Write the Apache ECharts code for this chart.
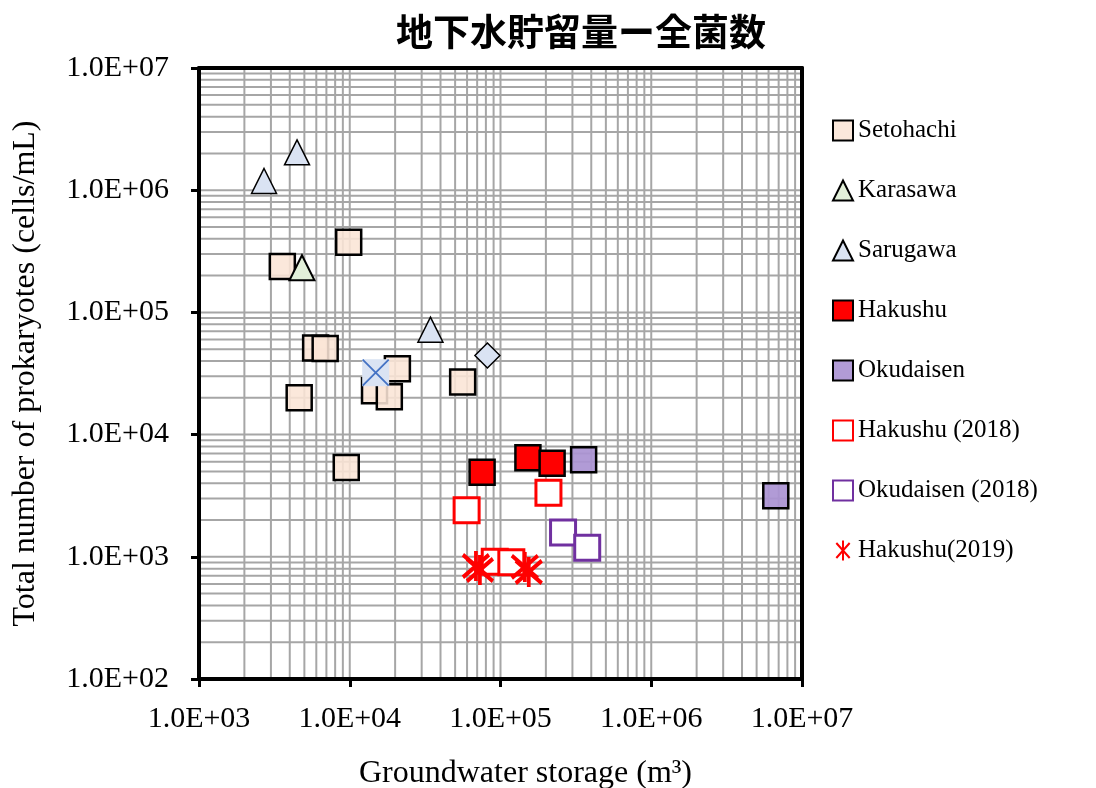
<!DOCTYPE html>
<html>
<head>
<meta charset="utf-8">
<script src="https://cdn.jsdelivr.net/npm/echarts@6/dist/echarts.min.js"></script>
<style>
  html, body { margin: 0; padding: 0; background: #fff; }
  #main { width: 1096px; height: 788px; }
</style>
</head>
<body>
<div id="main"></div>
<script>
// data (x: groundwater storage m3, y: cells/mL)
var setohachiX = [9840, 3570, 5940, 6870, 4620, 20700, 14600, 18300, 56100, 9480];
var setohachiY = [375000, 237000, 51100, 50700, 20000, 34600, 22800, 20400, 27000, 5380];
var karasawaX = [4820];
var karasawaY = [232000];
var sarugawaX = [4470, 2700, 34300];
var sarugawaY = [2040000, 1190000, 72200];
var sarugawaDiamondX = [81900];
var sarugawaDiamondY = [44400];
var crossX = [14860];
var crossY = [32100];
var hakushuX = [75500, 152000, 220000];
var hakushuY = [4920, 6470, 5820];
var okudaisenX = [356000, 6700000];
var okudaisenY = [6240, 3160];
var hakushu2018X = [59600, 208000, 91600, 118000];
var hakushu2018Y = [2400, 3350, 912, 904];
var okudaisen2018X = [260000, 376000];
var okudaisen2018Y = [1580, 1185];
var hakushu2019X = [68700, 73000, 145000, 154000];
var hakushu2019Y = [841, 780, 827, 752];

var legendNames = ['Setohachi', 'Karasawa', 'Sarugawa', 'Hakushu', 'Okudaisen',
  'Hakushu (2018)', 'Okudaisen (2018)', 'Hakushu(2019)'];

var xMin = 1e3, xMax = 1e7, yMin = 1e2, yMax = 1e7;

function zip(xs, ys) {
  return xs.map(function (x, i) { return [x, ys[i]]; });
}

// log grid values: 1..9 x 10^e
function logGrid(lo, hi) {
  var out = [];
  for (var e = lo; e < hi; e++) {
    for (var k = 1; k <= 9; k++) out.push(k * Math.pow(10, e));
  }
  return out;
}
var gridXs = logGrid(3, 7);
var gridYs = logGrid(2, 7);

function sciLabel(v) {
  var e = Math.round(Math.log10(v));
  return '1.0E+' + (e < 10 ? '0' : '') + e;
}

var serif = '"Liberation Serif", "Times New Roman", serif';
var gridColor = '#a6a6a6';
var starPath = 'path://M2,3L18,21M18,3L2,21M10,0L10,24';
var crossPath = 'path://M0,0L20,20M20,0L0,20';

var chart = echarts.init(document.getElementById('main'));

chart.setOption({
  animation: false,
  backgroundColor: '#fff',
  title: {
    text: '地下水貯留量ー全菌数',
    left: 391,
    top: 8,
    textStyle: {
      fontFamily: '"Noto Sans CJK JP", sans-serif',
      fontWeight: 'bold',
      fontSize: 37,
      color: '#000'
    }
  },
  legend: {
    data: legendNames,
    orient: 'vertical',
    left: 827,
    top: 113,
    itemGap: 35,
    itemWidth: 20,
    itemHeight: 20,
    textStyle: { fontFamily: serif, fontSize: 25, color: '#000', lineHeight: 25 }
  },
  grid: { left: 199, right: 294, top: 68, bottom: 109, containLabel: false, outerBoundsMode: 'none' },
  xAxis: [
    {
      type: 'log', min: xMin, max: xMax, splitNumber: 4, position: 'bottom', z: 10,
      axisLine: { onZero: false, lineStyle: { color: '#000', width: 4 } },
      axisTick: { show: true, length: 8, lineStyle: { color: '#000', width: 3 } },
      axisLabel: { formatter: sciLabel, fontFamily: serif, fontSize: 30, color: '#000', margin: 25 },
      splitLine: { show: false },
      name: 'Groundwater storage (m³)',
      nameLocation: 'middle',
      nameGap: 79,
      nameTextStyle: { fontFamily: serif, fontSize: 32, color: '#000', padding: [0, 0, 0, 50] }
    },
    {
      type: 'log', min: xMin, max: xMax, position: 'top', z: 10,
      axisLine: { onZero: false, lineStyle: { color: '#000', width: 4 } },
      axisTick: { show: false }, axisLabel: { show: false }, splitLine: { show: false }
    }
  ],
  yAxis: [
    {
      type: 'log', min: yMin, max: yMax, splitNumber: 5, position: 'left', z: 10,
      axisLine: { onZero: false, lineStyle: { color: '#000', width: 4 } },
      axisTick: { show: true, length: 8, lineStyle: { color: '#000', width: 3 } },
      axisLabel: { formatter: sciLabel, fontFamily: serif, fontSize: 30, color: '#000', margin: 30 },
      splitLine: { show: false },
      name: 'Total number of prokaryotes (cells/mL)',
      nameLocation: 'middle',
      nameGap: 157,
      nameTextStyle: { fontFamily: serif, fontSize: 32, color: '#000' }
    },
    {
      type: 'log', min: yMin, max: yMax, position: 'right', z: 10,
      axisLine: { onZero: false, lineStyle: { color: '#000', width: 4 } },
      axisTick: { show: false }, axisLabel: { show: false }, splitLine: { show: false }
    }
  ],
  series: [
    // grid lines at 1..9 x 10^n
    {
      type: 'custom', name: 'gridX', silent: true, z: 1,
      data: gridXs.map(function (v) { return [v, yMin]; }),
      renderItem: function (params, api) {
        var a = api.coord([api.value(0), yMin]);
        var b = api.coord([api.value(0), yMax]);
        return { type: 'line', shape: { x1: a[0], y1: a[1], x2: b[0], y2: b[1] },
          style: { stroke: gridColor, lineWidth: 2 } };
      }
    },
    {
      type: 'custom', name: 'gridY', silent: true, z: 1,
      data: gridYs.map(function (v) { return [xMin, v]; }),
      renderItem: function (params, api) {
        var a = api.coord([xMin, api.value(1)]);
        var b = api.coord([xMax, api.value(1)]);
        return { type: 'line', shape: { x1: a[0], y1: a[1], x2: b[0], y2: b[1] },
          style: { stroke: gridColor, lineWidth: 2 } };
      }
    },
    {
      name: 'Setohachi', type: 'scatter', z: 3, symbol: 'rect', symbolSize: 25,
      itemStyle: { color: 'rgba(251,229,214,0.88)', borderColor: '#000', borderWidth: 2.5, opacity: 1 },
      data: zip(setohachiX, setohachiY)
    },
    {
      name: 'Karasawa', type: 'scatter', z: 3, symbol: 'triangle', symbolSize: 25,
      itemStyle: { color: '#e2f0d9', borderColor: '#000', borderWidth: 2, opacity: 1 },
      data: zip(karasawaX, karasawaY)
    },
    {
      name: 'Sarugawa', type: 'scatter', z: 3, symbol: 'triangle', symbolSize: 25,
      itemStyle: { color: '#dae3f3', borderColor: '#000', borderWidth: 1.5, opacity: 1 },
      data: zip(sarugawaX, sarugawaY)
    },
    {
      name: 'Sarugawa diamond', type: 'scatter', z: 3, symbol: 'diamond', symbolSize: 25,
      itemStyle: { color: '#dae3f3', borderColor: '#000', borderWidth: 1.5, opacity: 1 },
      data: zip(sarugawaDiamondX, sarugawaDiamondY)
    },
    {
      name: 'cross fill', type: 'scatter', z: 3, symbol: 'rect', symbolSize: 27,
      itemStyle: { color: '#dae3f3', borderWidth: 0, opacity: 1 },
      data: zip(crossX, crossY)
    },
    {
      name: 'cross', type: 'scatter', z: 3, symbol: crossPath, symbolSize: 26,
      itemStyle: { color: 'rgba(0,0,0,0)', borderColor: '#4472c4', borderWidth: 1.8, opacity: 1 },
      data: zip(crossX, crossY)
    },
    {
      name: 'Hakushu', type: 'scatter', z: 3, symbol: 'rect', symbolSize: 25,
      itemStyle: { color: '#ff0000', borderColor: '#000', borderWidth: 2.5, opacity: 1 },
      data: zip(hakushuX, hakushuY)
    },
    {
      name: 'Okudaisen', type: 'scatter', z: 3, symbol: 'rect', symbolSize: 25,
      itemStyle: { color: 'rgba(170,147,210,0.92)', borderColor: '#000', borderWidth: 2.5, opacity: 1 },
      data: zip(okudaisenX, okudaisenY)
    },
    {
      name: 'Hakushu (2018)', type: 'scatter', z: 3, symbol: 'rect', symbolSize: 25,
      itemStyle: { color: '#fff', borderColor: '#ff0000', borderWidth: 3, opacity: 1 },
      data: zip(hakushu2018X, hakushu2018Y)
    },
    {
      name: 'Okudaisen (2018)', type: 'scatter', z: 3, symbol: 'rect', symbolSize: 25,
      itemStyle: { color: '#fff', borderColor: '#7030a0', borderWidth: 3, opacity: 1 },
      data: zip(okudaisen2018X, okudaisen2018Y)
    },
    {
      name: 'Hakushu(2019)', type: 'scatter', z: 3, symbol: starPath, symbolSize: [26, 30],
      itemStyle: { color: 'rgba(0,0,0,0)', borderColor: '#ff0000', borderWidth: 4, opacity: 1 },
      data: zip(hakushu2019X, hakushu2019Y)
    }
  ]
});
</script>
</body>
</html>
